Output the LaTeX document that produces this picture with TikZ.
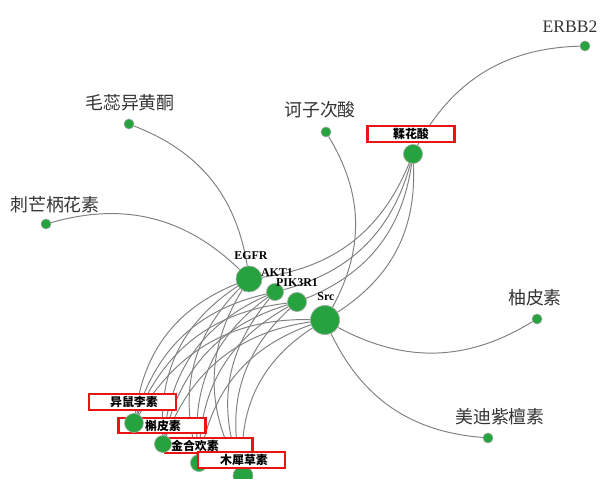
\documentclass[tikz,border=0pt]{standalone}
\usepackage{fontspec}
\setmainfont{Liberation Serif}
\newfontfamily\cjk{Noto Sans CJK SC}
\definecolor{dotgreen}{RGB}{38,163,62}
\definecolor{edgegray}{RGB}{128,128,128}
\definecolor{boxred}{RGB}{235,20,20}
\begin{document}
\begin{tikzpicture}[x=0.02cm,y=-0.02cm,
  dot/.style={circle,fill=dotgreen,draw=gray!60,line width=0.3pt,inner sep=0pt,minimum size=#1*0.04cm},
  edge/.style={draw=edgegray,line width=0.55pt},
  leaflab/.style={font=\cjk\fontsize{10.2}{12}\selectfont,text=black!80,inner sep=0pt},
  enlab/.style={font=\fontsize{10}{12}\selectfont,text=black!80,inner sep=0pt},
  hublab/.style={font=\bfseries\fontsize{6.8}{8}\selectfont,inner sep=0pt},
  redbox/.style={draw=boxred,line width=1.2pt,fill=white,minimum width=1.74cm,minimum height=0.31cm,inner sep=0pt},
  boxlab/.style={font=\cjk\bfseries\fontsize{6.8}{8}\selectfont,inner sep=0pt}
]
\useasboundingbox (0,0) rectangle (603,479);

% nodes
\node[dot=5] (erbb2) at (585,46) {};
\node[dot=5] (mr) at (129,124) {};
\node[dot=5] (cm) at (46,224) {};
\node[dot=5] (hz) at (326,132) {};
\node[dot=9.5] (rh) at (413,154) {};
\node[dot=5] (yp) at (537,319) {};
\node[dot=5] (md) at (488,438) {};
\node[dot=13] (egfr) at (249,279) {};
\node[dot=8.5] (akt) at (275,292) {};
\node[dot=9.5] (pik) at (297,302) {};
\node[dot=14.5] (src) at (325,320) {};
\node[dot=9.5] (c1) at (134,423) {};
\node[dot=8.5] (c2) at (163,444) {};
\node[dot=8.5] (c3) at (199,463) {};
\node[dot=10] (c4) at (243,476) {};

% edges
\foreach \a/\b in {mr/egfr,cm/egfr,hz/src,yp/src,md/src,rh/egfr,rh/akt,rh/pik,rh/src,rh/erbb2,
  c1/egfr,c1/akt,c1/pik,c1/src,c2/egfr,c2/akt,c2/pik,c2/src,
  c3/egfr,c3/akt,c3/pik,c3/src,c4/egfr,c4/akt,c4/pik,c4/src}
  \draw[edge] (\a) to[bend left=30] (\b);

% redraw dots on top of edges
\foreach \n/\r in {erbb2/5,mr/5,cm/5,hz/5,rh/9.5,yp/5,md/5,egfr/13,akt/8.5,pik/9.5,src/14.5,c3/8.5,c4/10}
  \node[dot=\r] at (\n.center) {};

% leaf labels
\node[enlab] (lerbb2) at (570,27) {ERBB2};
\node[leaflab] (lmr) at (130,103) {毛蕊异黄酮};
\node[leaflab] (lcm) at (55,205) {刺芒柄花素};
\node[leaflab] (lhz) at (320,110) {诃子次酸};
\node[leaflab] (lyp) at (535,298) {柚皮素};
\node[leaflab] (lmd) at (500,417) {美迪紫檀素};

% hub labels
\node[hublab] (legfr) at (251,256) {EGFR};
\node[hublab] (lakt) at (277,273) {AKT1};
\node[hublab] (lpik) at (297,283) {PIK3R1};
\node[hublab] (lsrc) at (326,297) {Src};

% boxed labels
\node[redbox] (brh) at (411,134) {};
\node[boxlab] at (brh.center) {鞣花酸};
\node[redbox] (bc1) at (132.5,402) {};
\node[boxlab] at (134,402) {异鼠李素};
\node[redbox] (bc2) at (162,425.5) {};
\node[boxlab] at (163,426) {槲皮素};
\node[redbox] (bc3) at (209,445.5) {};
\node[boxlab] at (195,445.5) {金合欢素};
\node[redbox] (bc4) at (241.5,460) {};
\node[boxlab] at (244,460) {木犀草素};

% dots that lie over their neighbouring boxes
\node[dot=9.5] at (c1.center) {};
\node[dot=8.5] at (c2.center) {};
\end{tikzpicture}
\end{document}
